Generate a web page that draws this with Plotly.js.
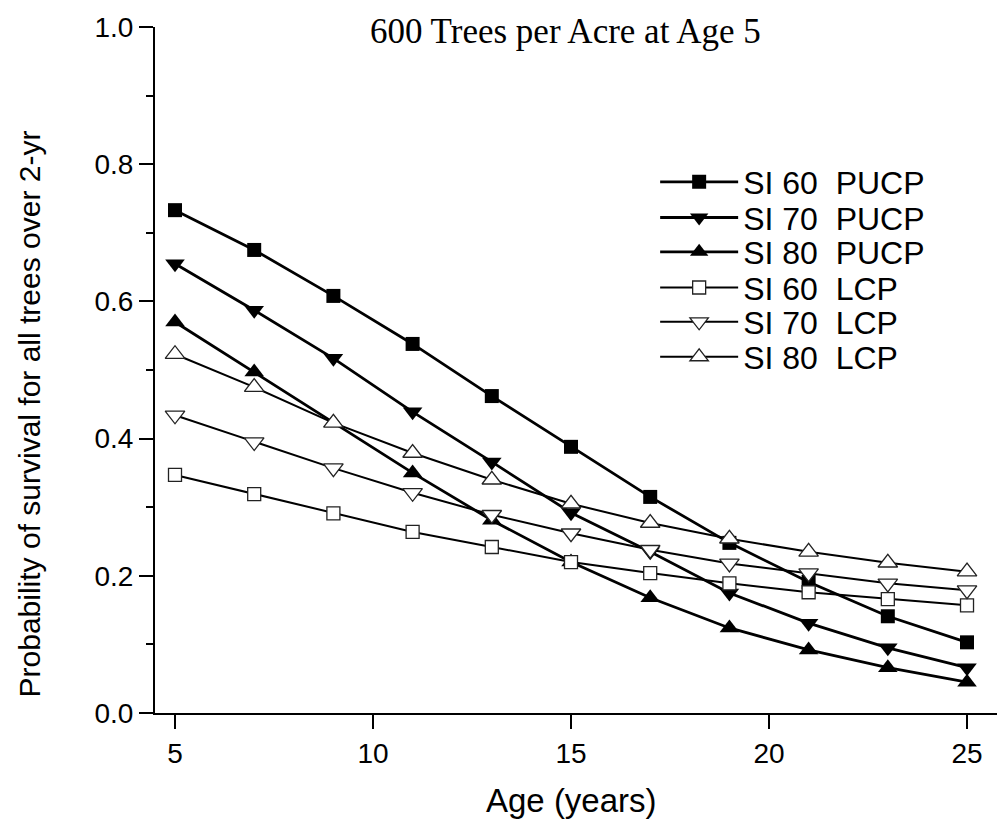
<!DOCTYPE html>
<html>
<head>
<meta charset="utf-8">
<script src="https://cdn.plot.ly/plotly-3.0.1.min.js"></script>
<style>html,body{margin:0;padding:0;background:#fff;}#chart{width:997px;height:821px;}</style>
</head>
<body>
<div id="chart"></div>
<script>
const ages = [5, 7, 9, 11, 13, 15, 17, 19, 21, 23, 25];
const si60PUCP = [0.733, 0.675, 0.608, 0.538, 0.462, 0.388, 0.315, 0.248, 0.191, 0.141, 0.103];
const si70PUCP = [0.655, 0.587, 0.517, 0.439, 0.366, 0.292, 0.235, 0.175, 0.131, 0.095, 0.066];
const si80PUCP = [0.570, 0.497, 0.423, 0.350, 0.281, 0.220, 0.168, 0.124, 0.092, 0.066, 0.045];
const si60LCP  = [0.347, 0.319, 0.291, 0.264, 0.242, 0.220, 0.204, 0.189, 0.176, 0.166, 0.157];
const si70LCP  = [0.434, 0.395, 0.357, 0.321, 0.289, 0.262, 0.238, 0.218, 0.204, 0.189, 0.179];
const si80LCP  = [0.523, 0.475, 0.423, 0.379, 0.340, 0.305, 0.277, 0.254, 0.235, 0.219, 0.206];
const seriesNames = ['SI 60  PUCP', 'SI 70  PUCP', 'SI 80  PUCP', 'SI 60  LCP', 'SI 70  LCP', 'SI 80  LCP'];
const titleText = '600 Trees per Acre at Age 5';
const xTitle = 'Age (years)';
const yTitle = 'Probability of survival for all trees over 2-yr';
const xTickVals = [5, 10, 15, 20, 25];
const yTickVals = [0, 0.2, 0.4, 0.6, 0.8, 1.0];
const yTickText = ['0.0', '0.2', '0.4', '0.6', '0.8', '1.0'];
const yMinorVals = [0.1, 0.3, 0.5, 0.7, 0.9];

const seriesValues = [si60PUCP, si70PUCP, si80PUCP, si60LCP, si70LCP, si80LCP];
const symbols = ['square', 'triangle-down', 'triangle-up', 'square', 'triangle-down', 'triangle-up'];
const filled = [true, true, true, false, false, false];
const legendIds = ['legend', 'legend2', 'legend3', 'legend4', 'legend5', 'legend6'];
const legendY = [0.774, 0.722, 0.672, 0.620, 0.570, 0.519];

const traces = seriesValues.map((vals, i) => {
  const isSq = symbols[i] === 'square';
  return {
    x: ages, y: vals, name: seriesNames[i], legend: legendIds[i],
    type: 'scatter', mode: 'lines+markers',
    line: {color: '#000', width: filled[i] ? 2.8 : 2},
    marker: {
      symbol: symbols[i],
      size: isSq ? (filled[i] ? 14 : 13) : 17,
      color: filled[i] ? '#000' : '#fff',
      line: {color: filled[i] ? '#000' : '#222', width: filled[i] ? 0 : 1.3}
    }
  };
});

const fontSans = 'Liberation Sans, Arial, sans-serif';
const layout = {
  width: 997, height: 821,
  margin: {l: 155, r: 0, t: 27, b: 108},
  paper_bgcolor: '#fff', plot_bgcolor: '#fff',
  showlegend: true,
  font: {family: fontSans, color: '#000'},
  xaxis: {
    range: [4.495, 25.757],
    tickvals: xTickVals,
    ticks: 'outside', ticklen: 14, tickwidth: 2, tickcolor: '#000',
    showline: true, linecolor: '#000', linewidth: 2,
    showgrid: false, zeroline: false,
    tickfont: {family: fontSans, size: 28, color: '#000'},
    automargin: false
  },
  yaxis: {
    range: [0, 1],
    tickvals: yTickVals,
    ticktext: yTickText,
    ticks: 'outside', ticklen: 14, tickwidth: 2, tickcolor: '#000',
    minor: {tickvals: yMinorVals, ticks: 'outside', ticklen: 7, tickwidth: 2, tickcolor: '#000'},
    showline: true, linecolor: '#000', linewidth: 2,
    showgrid: false, zeroline: false,
    tickfont: {family: fontSans, size: 28, color: '#000'},
    automargin: false
  },
  annotations: [
    {
      text: titleText, xref: 'paper', yref: 'paper',
      x: 0.487, y: 0.993, xanchor: 'center', yanchor: 'middle',
      showarrow: false,
      font: {family: 'Liberation Serif, Times New Roman, serif', size: 35, color: '#000'}
    },
    {
      text: xTitle, xref: 'paper', yref: 'paper',
      x: 0.495, y: -0.127, xanchor: 'center', yanchor: 'middle',
      showarrow: false,
      font: {family: fontSans, size: 33, color: '#000'}
    },
    {
      text: yTitle, xref: 'paper', yref: 'paper', textangle: -90,
      x: -0.149, y: 0.436, xanchor: 'center', yanchor: 'middle',
      showarrow: false,
      font: {family: fontSans, size: 30, color: '#000'}
    }
  ]
};

legendIds.forEach((id, i) => {
  layout[id] = {
    x: 0.594, y: legendY[i], xanchor: 'left', yanchor: 'middle',
    bgcolor: 'rgba(0,0,0,0)', borderwidth: 0,
    font: {family: fontSans, size: 32, color: '#000'},
    itemwidth: 78
  };
});

Plotly.newPlot('chart', traces, layout, {displayModeBar: false, staticPlot: true});
</script>
</body>
</html>
